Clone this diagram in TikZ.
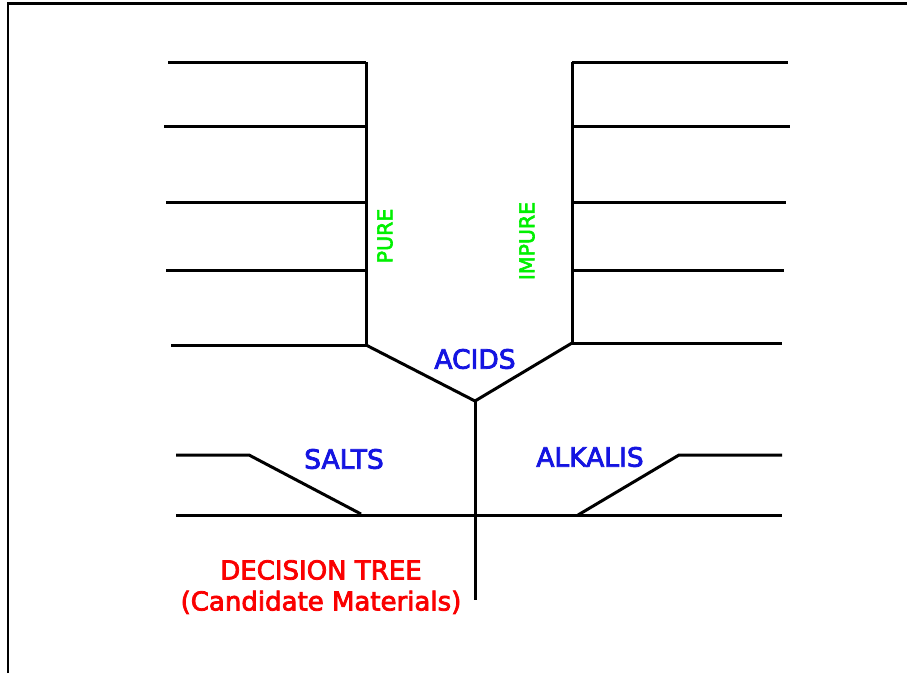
\documentclass[tikz,border=0pt]{standalone}
\usepackage{fontspec}
\setmainfont{DejaVu Sans}
\newfontfamily\lblfont[FakeBold=3]{DejaVu Sans}
\definecolor{lblblue}{RGB}{20,20,225}
\definecolor{lblgreen}{RGB}{0,240,0}
\definecolor{lblred}{RGB}{250,0,0}
\tikzset{
  branch/.style={line width=3pt, black, line cap=butt, line join=miter},
  frame/.style={line width=2.4pt, black},
  grouplbl/.style={text=lblblue, font=\lblfont\fontsize{26.5}{29}\selectfont, inner sep=0pt},
  sublbl/.style={text=lblgreen, font=\lblfont\fontsize{20.5}{23}\selectfont, inner sep=0pt, rotate=90},
  titlelbl/.style={text=lblred, font=\lblfont\fontsize{26}{31}\selectfont, inner sep=0pt, align=center}
}
\begin{document}
\begin{tikzpicture}[x=1pt,y=-1pt]
\useasboundingbox (0,0) rectangle (907,673);
% frame
\draw[frame] (8,673) -- (8,3.5) -- (907,3.5);
% left (pure) stack
\coordinate (Lt) at (366,62);
\coordinate (Lb) at (366,345);
\draw[branch] (Lt) -- (Lb);
\coordinate (L1) at (168,62);
\coordinate (L2) at (164,126);
\coordinate (L3) at (166,202);
\coordinate (L4) at (166,270);
\coordinate (L5) at (171,345);
\draw[branch] (L1) -- (Lt);
\draw[branch] (L2) -- (366,126);
\draw[branch] (L3) -- (366,202);
\draw[branch] (L4) -- (366,270);
\draw[branch] (L5) -- (Lb);
% right (impure) stack
\coordinate (Rt) at (572,62);
\coordinate (Rb) at (572,343);
\draw[branch] (Rt) -- (Rb);
\coordinate (R1) at (788,62);
\coordinate (R2) at (790,126);
\coordinate (R3) at (786,202);
\coordinate (R4) at (784,270);
\coordinate (R5) at (782,343);
\draw[branch] (Rt) -- (R1);
\draw[branch] (572,126) -- (R2);
\draw[branch] (572,202) -- (R3);
\draw[branch] (572,270) -- (R4);
\draw[branch] (Rb) -- (R5);
% acids fork and trunk
\coordinate (fork) at (475,401);
\coordinate (root) at (475,600);
\draw[branch] (Lb) -- (fork) -- (Rb);
\draw[branch] (fork) -- (root);
% main horizontal
\coordinate (Hl) at (176,515);
\coordinate (Hr) at (782,515);
\draw[branch] (Hl) -- (Hr);
% salts branch
\coordinate (S0) at (176,455);
\coordinate (S1) at (249,455);
\coordinate (S2) at (361,514);
\draw[branch] (S0) -- (S1) -- (S2);
% alkalis branch
\coordinate (A0) at (578,515);
\coordinate (A1) at (679,455);
\coordinate (A2) at (782,455);
\draw[branch] (A0) -- (A1) -- (A2);
% labels
\node[grouplbl] (acids) at (475,359) {ACIDS};
\node[grouplbl] (salts) at (344,459) {SALTS};
\node[grouplbl] (alkalis) at (590,457) {ALKALIS};
\node[sublbl] (pure) at (385,236) {PURE};
\node[sublbl] (impure) at (527,241) {IMPURE};
\node[titlelbl] (title) at (321,587) {DECISION TREE\\(Candidate Materials)};
\end{tikzpicture}
\end{document}
